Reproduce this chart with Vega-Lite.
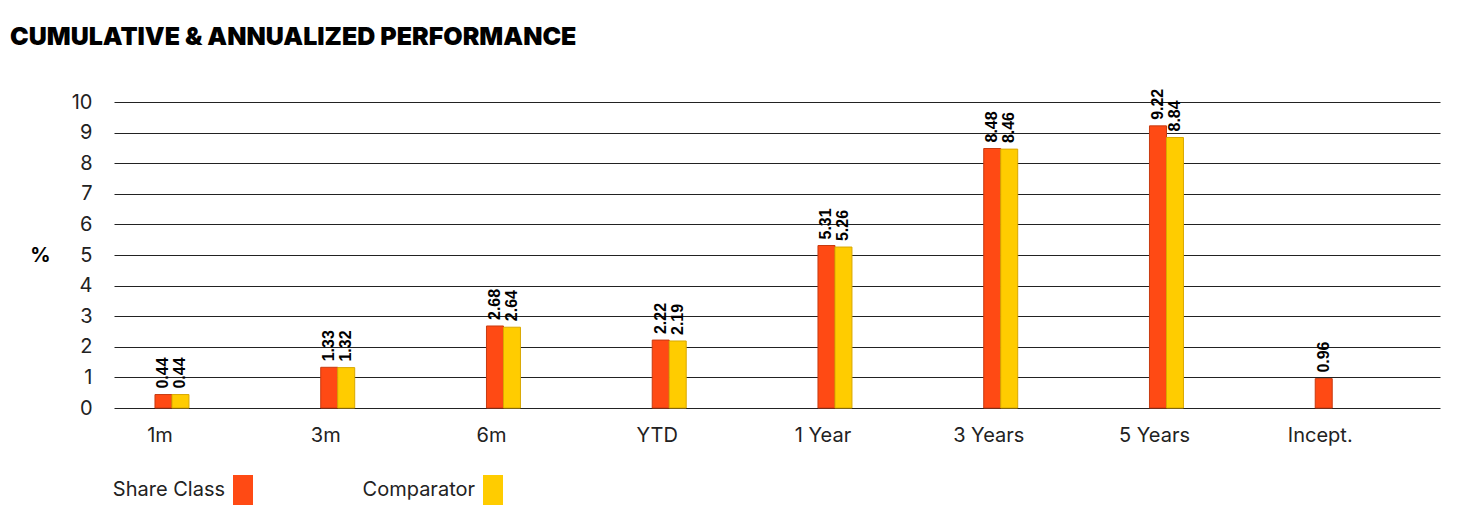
{
  "$schema": "https://vega.github.io/schema/vega-lite/v6.json",
  "autosize": "none",
  "width": 1326,
  "height": 306,
  "padding": {"left": 114, "top": 102, "right": 31, "bottom": 107},
  "background": "white",
  "title": {
    "text": "CUMULATIVE & ANNUALIZED PERFORMANCE",
    "anchor": "start",
    "frame": "group",
    "font": "Inter",
    "fontSize": 25,
    "fontWeight": 900,
    "color": "#000000",
    "dx": -104,
    "offset": 39
  },
  "data": {
    "values": [
      {"period": "1m", "series": "Share Class", "value": 0.44},
      {"period": "1m", "series": "Comparator", "value": 0.44},
      {"period": "3m", "series": "Share Class", "value": 1.33},
      {"period": "3m", "series": "Comparator", "value": 1.32},
      {"period": "6m", "series": "Share Class", "value": 2.68},
      {"period": "6m", "series": "Comparator", "value": 2.64},
      {"period": "YTD", "series": "Share Class", "value": 2.22},
      {"period": "YTD", "series": "Comparator", "value": 2.19},
      {"period": "1 Year", "series": "Share Class", "value": 5.31},
      {"period": "1 Year", "series": "Comparator", "value": 5.26},
      {"period": "3 Years", "series": "Share Class", "value": 8.48},
      {"period": "3 Years", "series": "Comparator", "value": 8.46},
      {"period": "5 Years", "series": "Share Class", "value": 9.22},
      {"period": "5 Years", "series": "Comparator", "value": 8.84},
      {"period": "Incept.", "series": "Share Class", "value": 0.96}
    ]
  },
  "encoding": {
    "x": {
      "field": "period",
      "type": "nominal",
      "sort": ["1m", "3m", "6m", "YTD", "1 Year", "3 Years", "5 Years", "Incept."],
      "scale": {"paddingInner": 0.795, "paddingOuter": 0.3975, "align": 0.311},
      "axis": {
        "title": null,
        "domain": false,
        "ticks": false,
        "labelAngle": 0,
        "labelOffset": -12,
        "labelPadding": 17,
        "labelFont": "Inter",
        "labelFontSize": 20,
        "labelColor": "#222222"
      }
    },
    "xOffset": {
      "field": "series",
      "type": "nominal",
      "sort": ["Share Class", "Comparator"],
      "scale": {"paddingInner": 0, "paddingOuter": 0}
    },
    "y": {
      "field": "value",
      "type": "quantitative",
      "scale": {"domain": [0, 10], "nice": false},
      "axis": {
        "values": [0, 1, 2, 3, 4, 5, 6, 7, 8, 9, 10],
        "title": "%",
        "titleAngle": 0,
        "titleX": -74,
        "titleY": 153,
        "titleAlign": "center",
        "titleBaseline": "middle",
        "titleFont": "Inter",
        "titleFontSize": 20,
        "titleFontWeight": "bold",
        "titleColor": "#000000",
        "domain": false,
        "ticks": false,
        "labelPadding": 22,
        "labelFont": "Inter",
        "labelFontSize": 20,
        "labelColor": "#222222",
        "grid": true,
        "gridColor": "#222222",
        "gridWidth": 1,
        "gridOpacity": 1
      }
    }
  },
  "layer": [
    {
      "mark": {"type": "bar", "strokeWidth": 1},
      "encoding": {
        "color": {
          "field": "series",
          "type": "nominal",
          "sort": ["Share Class", "Comparator"],
          "scale": {"domain": ["Share Class", "Comparator"], "range": ["#FF4A14", "#FFCC00"]},
          "legend": {
            "title": null,
            "orient": "none",
            "direction": "horizontal",
            "legendX": 114,
            "legendY": 373,
            "symbolType": "M-0.667,-1H0.667V1H-0.667Z",
            "symbolSize": 900,
            "symbolStrokeWidth": 0,
            "labelAlign": "right",
            "labelOffset": -33,
            "labelFont": "Inter",
            "labelFontSize": 20,
            "labelColor": "#222222",
            "columnPadding": 108
          }
        },
        "stroke": {
          "field": "series",
          "type": "nominal",
          "scale": {"domain": ["Share Class", "Comparator"], "range": ["#C83A10", "#D9A800"]},
          "legend": null
        }
      }
    },
    {
      "mark": {
        "type": "text",
        "angle": 270,
        "align": "left",
        "baseline": "middle",
        "dx": 6,
        "font": "Liberation Sans",
        "fontSize": 16,
        "fontWeight": "bold",
        "color": "#000000"
      },
      "encoding": {
        "text": {"field": "value", "type": "quantitative", "format": ".2f"}
      }
    }
  ],
  "config": {
    "view": {"stroke": null}
  }
}
